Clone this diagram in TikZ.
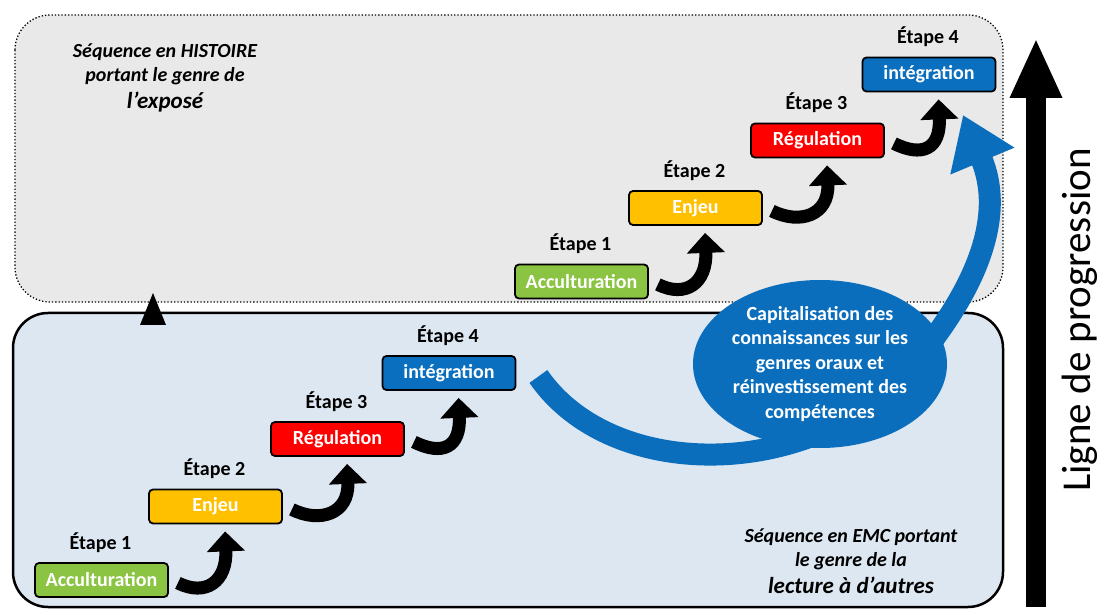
\documentclass[tikz,border=0pt]{standalone}
\usepackage{fontspec}
\setmainfont{Carlito}
\usetikzlibrary{arrows.meta,calc,shapes.geometric}
\definecolor{topgray}{HTML}{E9E9E9}
\definecolor{botblue}{HTML}{DDE7F2}
\definecolor{stepgreen}{HTML}{8BC443}
\definecolor{stepyellow}{HTML}{FFC000}
\definecolor{stepred}{HTML}{FF0000}
\definecolor{stepblue}{HTML}{0A6FBF}
\definecolor{capblue}{HTML}{0A6EBD}
\tikzset{
  stepbox/.style={draw=black, line width=1.8pt, rounded corners=4pt,
    minimum width=133pt, minimum height=34pt, inner sep=0pt, text=white,
    font=\bfseries\fontsize{20}{24}\selectfont},
  etape/.style={anchor=base, font=\bfseries\fontsize{20}{24}\selectfont},
  stepar/.style={line width=13pt, black, -{Triangle[width=37pt,length=20pt]}},
  seqtext/.style={align=center, font=\bfseries\itshape\fontsize{20}{24.5}\selectfont}
}
\newcommand\steparrow[2]{%
  \draw[stepar] ($(#1.south east)+(9,-15)$) .. controls +(28,14) and +(2,50) .. ($(#2.south west)+(77,7)$);}
\begin{document}
\begin{tikzpicture}[x=1pt,y=-1pt]
\useasboundingbox (0,0) rectangle (1101,612);
\fill[white] (0,0) rectangle (1101,612);
% boxes
\draw[dotted, line width=1.3pt, fill=topgray, rounded corners=35pt] (15,15) rectangle (1003,302);
\draw[line width=2.5pt, fill=botblue, rounded corners=35pt] (13,313) rectangle (1003,607);
% small triangle
\fill[black] (153,293) -- (166,325) -- (140,325) -- cycle;
% bottom sequence
\node[stepbox, fill=stepgreen] (b1) at (101.5,580) {Acculturation};
\node[stepbox, fill=stepyellow] (b2) at (215.5,506.5) {Enjeu};
\node[stepbox, fill=stepred] (b3) at (337.5,439) {Régulation};
\node[stepbox, fill=stepblue] (b4) at (449,373) {intégration};
% top sequence
\node[stepbox, fill=stepgreen] (a1) at (581.5,281.5) {Acculturation};
\node[stepbox, fill=stepyellow] (a2) at (695.5,208) {Enjeu};
\node[stepbox, fill=stepred] (a3) at (817.5,140.5) {Régulation};
\node[stepbox, fill=stepblue] (a4) at (929,74.5) {intégration};
% labels
\foreach \n/\t in {b1/1,b2/2,b3/3,b4/4,a1/1,a2/2,a3/3,a4/4}{
  \node[etape] (l\n) at ($(\n.north)+(-1,-13)$) {Étape \t};
}
% step arrows
\steparrow{b1}{b2}
\steparrow{b2}{b3}
\steparrow{b3}{b4}
\steparrow{a1}{a2}
\steparrow{a2}{a3}
\steparrow{a3}{a4}
% blue arrow
\coordinate (captip) at (963,115);
\draw[line width=22pt, capblue, -{Triangle[width=66pt,length=50pt]}]
  ($(b4.east)+(22,3.5)$) .. controls (610,480) and (800,480) .. (900,380)
  .. controls (980,290) and (1005,215) .. (captip);
% ellipse
\node[ellipse, fill=capblue, minimum width=254pt, minimum height=168pt, inner sep=-20pt,
  align=center, text=white, font=\bfseries\fontsize{20}{24.5}\selectfont] (cap) at (820,364)
  {Capitalisation des\\connaissances sur les\\genres oraux et\\réinvestissement des\\compétences};
% sequence texts
\node[seqtext, anchor=north] (histo) at (165,40) {Séquence en HISTOIRE\\portant le genre de\\[2pt]{\fontsize{23}{27}\selectfont l’exposé}};
\node[seqtext, anchor=north] (emc) at (851,525) {Séquence en EMC portant\\le genre de la\\[2pt]{\fontsize{23}{27}\selectfont lecture à d’autres}};
% progression arrow
\coordinate (pbot) at (1036,607);
\coordinate (ptop) at (1036,38);
\draw[line width=20pt, black, -{Triangle[width=48pt,length=60pt]}] (pbot) -- (ptop);
\node[rotate=90, font=\fontsize{41}{46}\selectfont] (prog) at (1080,320) {Ligne de progression};
\end{tikzpicture}
\end{document}
